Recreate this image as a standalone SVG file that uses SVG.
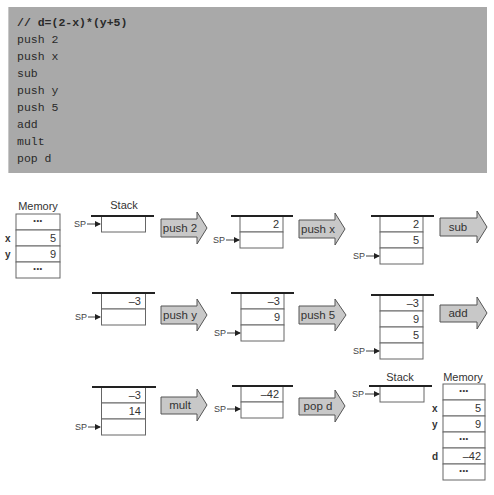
<svg xmlns="http://www.w3.org/2000/svg" width="494" height="495" viewBox="0 0 494 495">
<defs>
<style>
.code{font-family:"Liberation Mono","Courier New",monospace;font-size:11.5px;fill:#2a2a2a}
.codeb{font-weight:bold}
.lbl{font-family:"Liberation Sans",Arial,sans-serif;font-size:11px;fill:#333}
.num{font-family:"Liberation Sans",Arial,sans-serif;font-size:11px;fill:#333;text-anchor:end}
.dots{font-family:"Liberation Sans",Arial,sans-serif;font-size:7.5px;fill:#333;text-anchor:middle;letter-spacing:0.5px}
.sp{font-family:"Liberation Sans",Arial,sans-serif;font-size:9px;fill:#444}
.var{font-family:"Liberation Sans",Arial,sans-serif;font-size:10px;font-weight:bold;fill:#333}
.cell{fill:#fff;stroke:#666;stroke-width:1}
.top{stroke:#222;stroke-width:2}
.arr{fill:#c8c8c8;stroke:#555;stroke-width:1}
.alab{font-family:"Liberation Sans",Arial,sans-serif;font-size:11.5px;fill:#333;text-anchor:middle}
.spl{stroke:#444;stroke-width:1}
</style>
<marker id="sph" markerWidth="6" markerHeight="6" refX="5" refY="3" orient="auto" markerUnits="userSpaceOnUse">
<path d="M0,0 L6,3 L0,6 Z" fill="#222"/>
</marker>
</defs>
<rect width="494" height="495" fill="#fff"/>

<g id="code">
<rect x="8" y="7" width="479" height="166" fill="#a9a9a9"/>
<line x1="8.5" y1="7" x2="8.5" y2="173" stroke="#c8c8c8" stroke-width="1"/>
<text class="code codeb" x="17" y="26">// d=(2-x)*(y+5)</text>
<text class="code" x="17" y="43">push 2</text>
<text class="code" x="17" y="60">push x</text>
<text class="code" x="17" y="77">sub</text>
<text class="code" x="17" y="94">push y</text>
<text class="code" x="17" y="111">push 5</text>
<text class="code" x="17" y="128">add</text>
<text class="code" x="17" y="145">mult</text>
<text class="code" x="17" y="162">pop d</text>
</g>

<g id="memory-initial">
<text class="lbl" x="38" y="210" text-anchor="middle">Memory</text>
<rect class="cell" x="16" y="214" width="44" height="16"/>
<rect class="cell" x="16" y="230" width="44" height="16"/>
<rect class="cell" x="16" y="246" width="44" height="16"/>
<rect class="cell" x="16" y="262" width="44" height="16"/>
<text class="dots" x="38" y="223">•••</text>
<text class="num" x="56" y="242">5</text>
<text class="num" x="56" y="258">9</text>
<text class="dots" x="38" y="271">•••</text>
<text class="var" x="5" y="242">x</text>
<text class="var" x="5" y="258">y</text>
</g>

<g id="stack-r1c1">
<text class="lbl" x="124" y="209" text-anchor="middle">Stack</text>
<rect class="cell" x="101.5" y="216" width="44" height="16"/>
<line class="top" x1="91" y1="216" x2="154" y2="216"/>
<text class="sp" x="74" y="227">SP</text>
<line class="spl" x1="87" y1="224" x2="100" y2="224" marker-end="url(#sph)"/>
</g>

<g id="stack-r1c2">
<rect class="cell" x="240" y="216" width="43" height="16"/>
<rect class="cell" x="240" y="232" width="43" height="16"/>
<line class="top" x1="231" y1="216" x2="293" y2="216"/>
<text class="num" x="279" y="228">2</text>
<text class="sp" x="213" y="243">SP</text>
<line class="spl" x1="226" y1="240" x2="239" y2="240" marker-end="url(#sph)"/>
</g>

<g id="stack-r1c3">
<rect class="cell" x="380" y="216" width="43" height="16"/>
<rect class="cell" x="380" y="232" width="43" height="16"/>
<rect class="cell" x="380" y="248" width="43" height="16"/>
<line class="top" x1="371" y1="216" x2="434" y2="216"/>
<text class="num" x="419" y="228">2</text>
<text class="num" x="419" y="244">5</text>
<text class="sp" x="353" y="259">SP</text>
<line class="spl" x1="366" y1="256" x2="379" y2="256" marker-end="url(#sph)"/>
</g>

<g id="stack-r2c1">
<rect class="cell" x="101.5" y="293" width="44" height="16"/>
<rect class="cell" x="101.5" y="309" width="44" height="16"/>
<line class="top" x1="92" y1="293" x2="155" y2="293"/>
<text class="num" x="141" y="305">–3</text>
<text class="sp" x="75" y="320">SP</text>
<line class="spl" x1="88" y1="317" x2="100" y2="317" marker-end="url(#sph)"/>
</g>

<g id="stack-r2c2">
<rect class="cell" x="241" y="293" width="43" height="16"/>
<rect class="cell" x="241" y="309" width="43" height="16"/>
<rect class="cell" x="241" y="325" width="43" height="16"/>
<line class="top" x1="231" y1="293" x2="294" y2="293"/>
<text class="num" x="280" y="305">–3</text>
<text class="num" x="280" y="321">9</text>
<text class="sp" x="214" y="336">SP</text>
<line class="spl" x1="227" y1="333" x2="240" y2="333" marker-end="url(#sph)"/>
</g>

<g id="stack-r2c3">
<rect class="cell" x="380" y="295" width="43" height="16"/>
<rect class="cell" x="380" y="311" width="43" height="16"/>
<rect class="cell" x="380" y="327" width="43" height="16"/>
<rect class="cell" x="380" y="343" width="43" height="16"/>
<line class="top" x1="371" y1="295" x2="434" y2="295"/>
<text class="num" x="419" y="307">–3</text>
<text class="num" x="419" y="323">9</text>
<text class="num" x="419" y="339">5</text>
<text class="sp" x="353" y="354">SP</text>
<line class="spl" x1="366" y1="351" x2="379" y2="351" marker-end="url(#sph)"/>
</g>

<g id="stack-r3c1">
<rect class="cell" x="101.5" y="387" width="44" height="16"/>
<rect class="cell" x="101.5" y="403" width="44" height="16"/>
<rect class="cell" x="101.5" y="419" width="44" height="16"/>
<line class="top" x1="92" y1="387" x2="156" y2="387"/>
<text class="num" x="141" y="399">–3</text>
<text class="num" x="141" y="415">14</text>
<text class="sp" x="75" y="430">SP</text>
<line class="spl" x1="88" y1="427" x2="100" y2="427" marker-end="url(#sph)"/>
</g>

<g id="stack-r3c2">
<rect class="cell" x="241" y="386" width="42" height="16"/>
<rect class="cell" x="241" y="402" width="42" height="16"/>
<line class="top" x1="232" y1="386" x2="293" y2="386"/>
<text class="num" x="279" y="398">–42</text>
<text class="sp" x="214" y="412">SP</text>
<line class="spl" x1="227" y1="409" x2="240" y2="409" marker-end="url(#sph)"/>
</g>

<g id="stack-final">
<text class="lbl" x="400" y="381" text-anchor="middle">Stack</text>
<rect class="cell" x="380" y="386" width="44" height="16"/>
<line class="top" x1="369" y1="386" x2="432" y2="386"/>
<text class="sp" x="352" y="397">SP</text>
<line class="spl" x1="365" y1="394" x2="379" y2="394" marker-end="url(#sph)"/>
</g>

<g id="memory-final">
<text class="lbl" x="463" y="381" text-anchor="middle">Memory</text>
<rect class="cell" x="443" y="384" width="42" height="16"/>
<rect class="cell" x="443" y="400" width="42" height="16"/>
<rect class="cell" x="443" y="416" width="42" height="16"/>
<rect class="cell" x="443" y="432" width="42" height="16"/>
<rect class="cell" x="443" y="448" width="42" height="16"/>
<rect class="cell" x="443" y="464" width="42" height="16"/>
<text class="dots" x="464" y="393">•••</text>
<text class="num" x="481" y="412">5</text>
<text class="num" x="481" y="428">9</text>
<text class="dots" x="464" y="441">•••</text>
<text class="num" x="481" y="460">–42</text>
<text class="dots" x="464" y="473">•••</text>
<text class="var" x="432" y="412">x</text>
<text class="var" x="432" y="428">y</text>
<text class="var" x="432" y="460">d</text>
</g>

<g id="connectors">
<g id="op-push2">
<polygon class="arr" points="161,219 197,219 197,212 207,228 197,244 197,237 161,237"/>
<text class="alab" x="180" y="232">push 2</text>
</g>
<g id="op-pushx">
<polygon class="arr" points="299,220 335,220 335,213 345,229 335,245 335,238 299,238"/>
<text class="alab" x="318" y="233">push x</text>
</g>
<g id="op-sub">
<polygon class="arr" points="440,218 477,218 477,211 487,227 477,243 477,236 440,236"/>
<text class="alab" x="458" y="231">sub</text>
</g>
<g id="op-pushy">
<polygon class="arr" points="161,306 197,306 197,299 207,315 197,331 197,324 161,324"/>
<text class="alab" x="180" y="319">push y</text>
</g>
<g id="op-push5">
<polygon class="arr" points="299,306 335,306 335,299 346,315 335,331 335,324 299,324"/>
<text class="alab" x="318" y="319">push 5</text>
</g>
<g id="op-add">
<polygon class="arr" points="440,305 477,305 477,297 487,313 477,329 477,322 440,322"/>
<text class="alab" x="458" y="317">add</text>
</g>
<g id="op-mult">
<polygon class="arr" points="161,397 197,397 197,389 207,405 197,421 197,414 161,414"/>
<text class="alab" x="180" y="409">mult</text>
</g>
<g id="op-popd">
<polygon class="arr" points="299,398 335,398 335,390 345,406 335,422 335,415 299,415"/>
<text class="alab" x="318" y="410">pop d</text>
</g>
</g>
</svg>
